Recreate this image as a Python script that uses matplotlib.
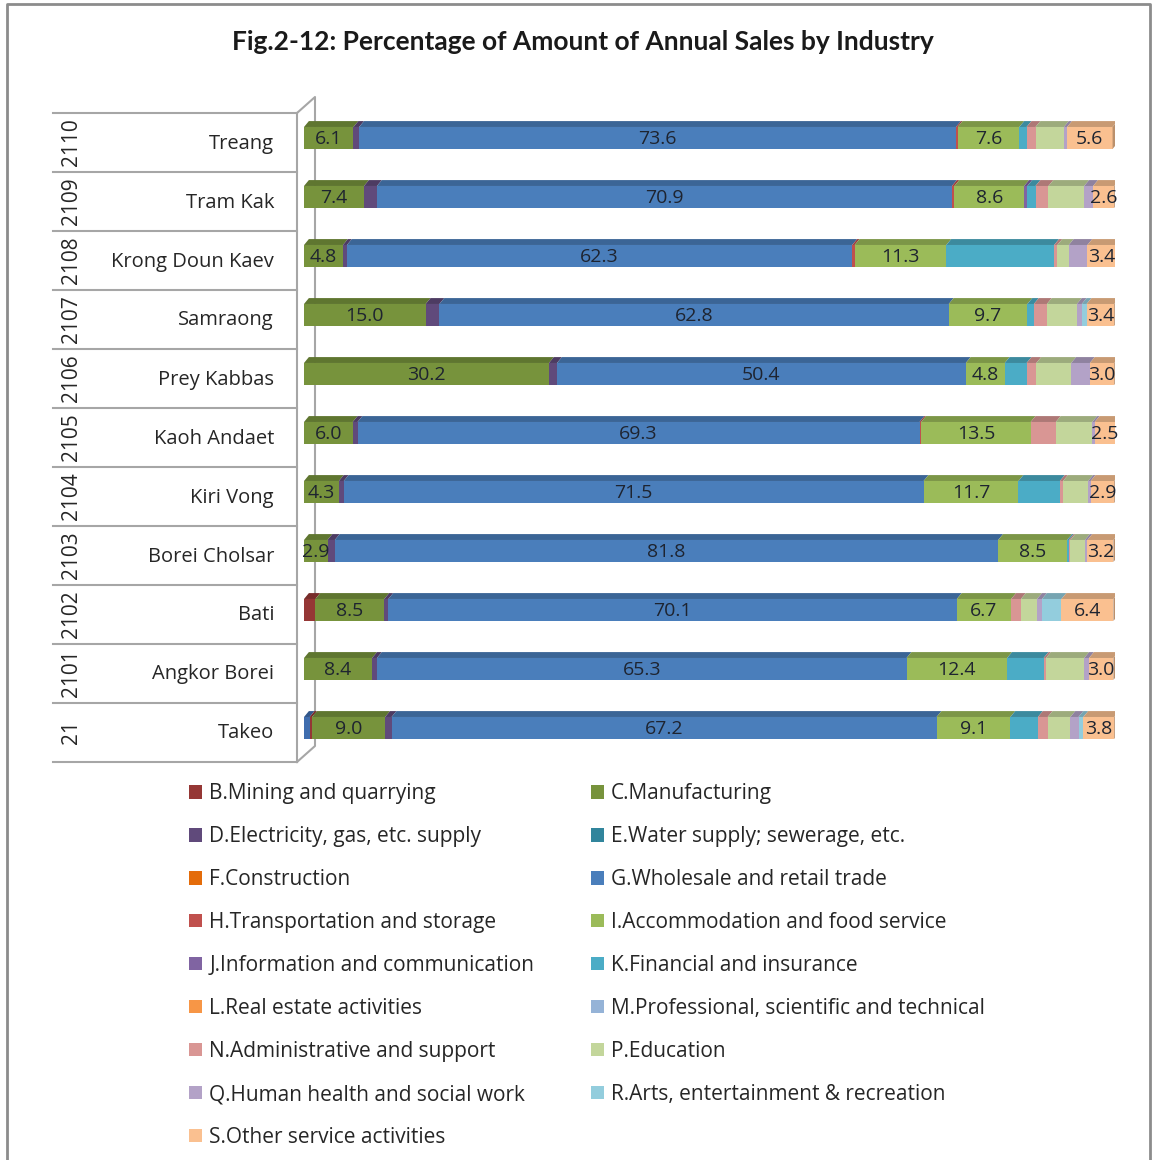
import numpy as np
import matplotlib.pyplot as plt
from matplotlib.patches import Polygon, Patch
from matplotlib.colors import to_rgb

plt.rcParams['font.family'] = ['Open Sans', 'DejaVu Sans']

# districts, top to bottom
names = ["Treang", "Tram Kak", "Krong Doun Kaev", "Samraong", "Prey Kabbas",
         "Kaoh Andaet", "Kiri Vong", "Borei Cholsar", "Bati", "Angkor Borei", "Takeo"]
codes = ["2110", "2109", "2108", "2107", "2106", "2105", "2104", "2103", "2102", "2101", "21"]

# percentage of annual sales per industry (same row order)
A = [0, 0, 0, 0, 0, 0, 0, 0, 0, 0, 0.7]
B = [0, 0, 0, 0, 0, 0, 0, 0, 1.4, 0, 0.3]
C = [6.1, 7.4, 4.8, 15.0, 30.2, 6.0, 4.3, 2.9, 8.5, 8.4, 9.0]
D = [0.7, 1.6, 0.5, 1.7, 1.0, 0.6, 0.6, 0.9, 0.5, 0.6, 0.8]
E = [0, 0, 0, 0, 0, 0, 0, 0, 0, 0, 0]
F = [0, 0, 0, 0, 0, 0, 0, 0, 0, 0, 0]
G = [73.6, 70.9, 62.3, 62.8, 50.4, 69.3, 71.5, 81.8, 70.1, 65.3, 67.2]
H = [0.2, 0.3, 0.3, 0, 0, 0.2, 0, 0, 0, 0, 0]
I = [7.6, 8.6, 11.3, 9.7, 4.8, 13.5, 11.7, 8.5, 6.7, 12.4, 9.1]
J = [0, 0.4, 0, 0, 0, 0, 0, 0, 0, 0, 0]
K = [0.9, 1.0, 13.3, 0.8, 2.7, 0, 5.1, 0.2, 0, 4.5, 3.4]
L = [0, 0, 0, 0, 0, 0, 0, 0, 0, 0, 0]
M = [0, 0, 0, 0, 0, 0, 0, 0, 0, 0, 0]
N = [1.1, 1.6, 0.4, 1.6, 1.2, 3.1, 0.4, 0.2, 1.2, 0.3, 1.2]
P = [3.5, 4.4, 1.4, 3.7, 4.3, 4.5, 3.1, 1.8, 2.0, 4.7, 2.8]
Q = [0.4, 1.1, 2.3, 0.6, 2.3, 0.3, 0.3, 0.3, 0.6, 0.6, 1.0]
R = [0, 0, 0, 0.6, 0, 0, 0, 0, 2.4, 0, 0.6]
S = [5.6, 2.6, 3.4, 3.4, 3.0, 2.5, 2.9, 3.2, 6.4, 3.0, 3.8]

industries = ["A", "B.Mining and quarrying", "C.Manufacturing", "D.Electricity, gas, etc. supply",
              "E.Water supply; sewerage, etc.", "F.Construction", "G.Wholesale and retail trade",
              "H.Transportation and storage", "I.Accommodation and food service",
              "J.Information and communication", "K.Financial and insurance",
              "L.Real estate activities", "M.Professional, scientific and technical",
              "N.Administrative and support", "P.Education", "Q.Human health and social work",
              "R.Arts, entertainment & recreation", "S.Other service activities"]
values = [A, B, C, D, E, F, G, H, I, J, K, L, M, N, P, Q, R, S]
labelled = ["C.Manufacturing", "G.Wholesale and retail trade",
            "I.Accommodation and food service", "S.Other service activities"]

colors = ["#3F6DAE", "#953735", "#77933C", "#604A7B", "#31859C", "#E46C0A",
          "#4A7EBB", "#C0504D", "#9BBB59", "#8064A2", "#4BACC6", "#F79646",
          "#95B3D7", "#D99694", "#C3D69B", "#B3A2C7", "#93CDDD", "#FAC090"]

title = "Fig.2-12: Percentage of Amount of Annual Sales by Industry"

W, Hpx = 1155, 1160
top, row_h = 113, 59
n = len(names)
bottom = top + n * row_h

fig = plt.figure(figsize=(W / 100, Hpx / 100), dpi=100)

# background layer: frame, category table, 3d wall
bg = fig.add_axes([0, 0, 1, 1])
bg.set_xlim(0, W)
bg.set_ylim(Hpx, 0)
bg.axis('off')
bg.plot([7, 7, 1150, 1150], [1165, 4, 4, 1165], color='#8c8c8c', lw=2)
lc = '#a6a6a6'
for k in range(n + 1):
    yy = top + k * row_h
    bg.plot([53, 297], [yy, yy], color=lc, lw=1.5)
bg.plot([297, 297], [top, bottom], color=lc, lw=1.5)
bg.plot([297, 315, 315, 297], [top, top - 16, bottom - 16, bottom], color=lc, lw=1.5)
for i in range(n):
    yc = top + (i + 0.5) * row_h
    bg.text(71, yc, codes[i], rotation=90, ha='center', va='center',
            fontsize=15, color='#262626')
    bg.text(274, yc + 1, names[i], ha='right', va='center', fontsize=14.5, color='#262626')

fig.text(583 / W, 1 - 42 / Hpx, title, ha='center', va='center', family='Lato',
         fontsize=19, fontweight='bold', color='#1a1a1a')

# bars
ax = fig.add_axes([304 / W, 1 - bottom / Hpx, 811 / W, (bottom - top) / Hpx])
ax.set_xlim(0, 100)
ax.set_ylim(-0.5, n - 0.5)
ax.axis('off')

ypos = np.arange(n)[::-1]
yb, yt = -0.11, 0.263
dx, dy = 0.6, 0.1

def shade(c, f):
    r, g, b = to_rgb(c)
    return (r * f, g * f, b * f)

left = np.zeros(n)
for lab, vals, col in zip(industries, values, colors):
    vals = np.array(vals, dtype=float)
    ax.barh(ypos + (yb + yt) / 2, vals, left=left, height=yt - yb,
            color=col, edgecolor='none')
    for j in range(n):
        if vals[j] <= 0:
            continue
        x0, x1 = left[j], left[j] + vals[j]
        y = ypos[j]
        ax.add_patch(Polygon([(x0, y + yt), (x1, y + yt), (x1 + dx, y + yt + dy),
                              (x0 + dx, y + yt + dy)], closed=True,
                             facecolor=shade(col, 0.8), edgecolor='none'))
        if lab in labelled:
            ax.text((x0 + x1) / 2, y + (yb + yt) / 2 - 0.02, "{:.1f}".format(vals[j]),
                    ha='center', va='center', fontsize=14, color='#1e2430')
    left += vals

# right end side faces
last = [next(c for v, c in zip(values[::-1], colors[::-1]) if v[j] > 0) for j in range(n)]
for j in range(n):
    y = ypos[j]
    x1 = left[j]
    ax.add_patch(Polygon([(x1, y + yb), (x1 + dx, y + yb + dy), (x1 + dx, y + yt + dy),
                          (x1, y + yt)], closed=True,
                         facecolor=shade(last[j], 0.75), edgecolor='none'))

# legend: left column B, D, F ...; right column C, E, G ...
leg_labels = industries[1:]
leg_colors = colors[1:]
order = list(range(0, len(leg_labels), 2)) + list(range(1, len(leg_labels), 2))
handles = [Patch(facecolor=leg_colors[k], edgecolor='none') for k in order]
fig.legend(handles, [leg_labels[k] for k in order], loc='upper left',
           bbox_to_anchor=(181 / W, 1 - 775 / Hpx), ncol=2, frameon=False,
           fontsize=15, handlelength=0.6, handleheight=0.6, handletextpad=0.35,
           labelspacing=1.054, columnspacing=2.75, borderaxespad=0, labelcolor='#262626')

fig.savefig("out.png", dpi=100)
